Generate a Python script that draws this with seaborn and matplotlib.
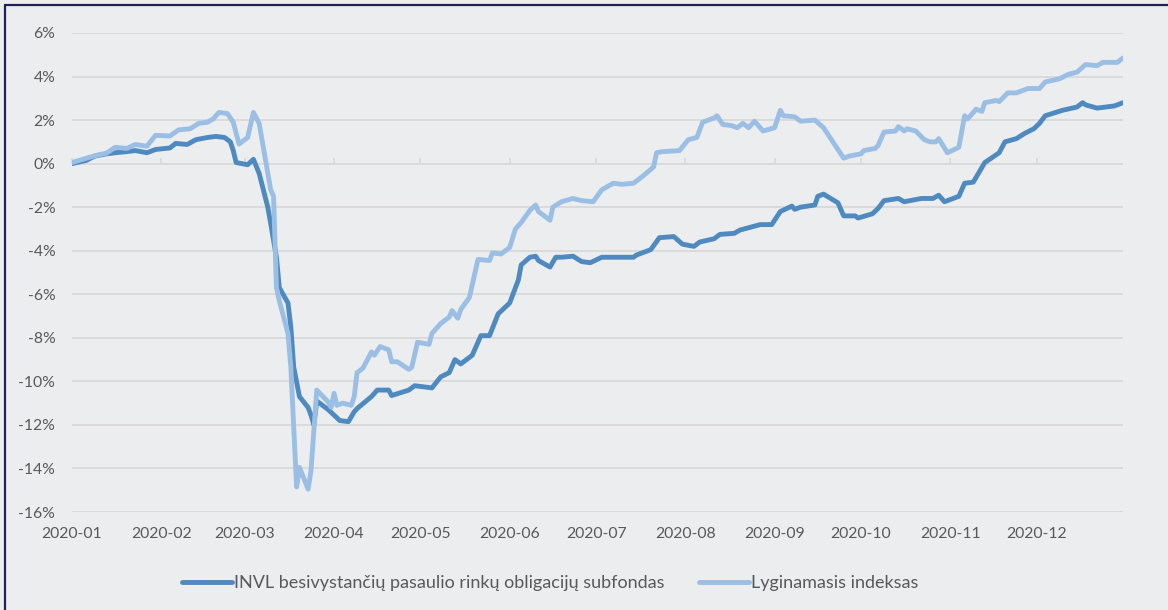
import pandas as pd
import seaborn as sns
import matplotlib.pyplot as plt
import matplotlib.dates as mdates
from matplotlib.lines import Line2D

# Duomenys nuskaityti nuo paveikslo (%)
fondo_datos = ["01-01", "01-06", "01-09", "01-13", "01-16", "01-20", "01-23", "01-27", "01-30",
               "02-04", "02-06", "02-10", "02-13", "02-17", "02-20", "02-23", "02-25", "02-26",
               "02-27", "03-02", "03-04", "03-06", "03-09", "03-10", "03-12", "03-13", "03-16",
               "03-17", "03-18", "03-20", "03-23", "03-24", "03-25", "03-26", "03-30", "04-03",
               "04-06", "04-08", "04-09", "04-14", "04-16", "04-20", "04-21", "04-27", "04-29",
               "05-05", "05-08", "05-11", "05-13", "05-15", "05-19", "05-22", "05-25", "05-28",
               "06-01", "06-04", "06-05", "06-08", "06-10", "06-11", "06-15", "06-17", "06-19",
               "06-23", "06-26", "06-29", "07-03", "07-09", "07-14", "07-15", "07-20", "07-23",
               "07-28", "07-31", "08-04", "08-06", "08-11", "08-13", "08-18", "08-20", "08-27",
               "08-31", "09-03", "09-07", "09-08", "09-10", "09-15", "09-16", "09-18", "09-23",
               "09-25", "09-29", "09-30", "10-05", "10-07", "10-09", "10-14", "10-16", "10-22",
               "10-26", "10-28", "10-30", "11-04", "11-06", "11-09", "11-11", "11-13", "11-18",
               "11-20", "11-24", "11-27", "11-30", "12-02", "12-04", "12-10", "12-15", "12-17",
               "12-18", "12-22", "12-28", "12-30", "12-31"]
fondo_reiksmes = [0.0, 0.15, 0.35, 0.45, 0.5, 0.55, 0.6, 0.5, 0.65,
                  0.72, 0.93, 0.88, 1.1, 1.2, 1.25, 1.2, 1.0, 0.6,
                  0.05, -0.05, 0.2, -0.45, -2.0, -2.75, -4.3, -5.7, -6.4,
                  -7.5, -9.35, -10.7, -11.2, -11.55, -12.0, -10.9, -11.3, -11.8,
                  -11.85, -11.4, -11.25, -10.7, -10.4, -10.4, -10.65, -10.4, -10.2,
                  -10.3, -9.8, -9.6, -9.0, -9.2, -8.8, -7.9, -7.9, -6.9,
                  -6.4, -5.35, -4.65, -4.3, -4.25, -4.45, -4.75, -4.3, -4.3,
                  -4.25, -4.5, -4.55, -4.3, -4.3, -4.3, -4.2, -3.95, -3.4,
                  -3.35, -3.7, -3.8, -3.6, -3.45, -3.25, -3.2, -3.05, -2.8,
                  -2.8, -2.2, -1.95, -2.1, -2.0, -1.9, -1.5, -1.4, -1.8,
                  -2.4, -2.4, -2.5, -2.3, -2.05, -1.7, -1.6, -1.75, -1.6,
                  -1.6, -1.45, -1.75, -1.5, -0.9, -0.85, -0.4, 0.05, 0.5,
                  1.0, 1.15, 1.4, 1.6, 1.85, 2.2, 2.45, 2.6, 2.8,
                  2.7, 2.55, 2.65, 2.75, 2.8]

indekso_datos = ["01-01", "01-06", "01-10", "01-13", "01-16", "01-20", "01-23", "01-27", "01-30",
                 "02-04", "02-07", "02-11", "02-14", "02-17", "02-19", "02-21", "02-24", "02-26",
                 "02-28", "03-02", "03-04", "03-05", "03-06", "03-10", "03-11", "03-12", "03-13",
                 "03-16", "03-17", "03-19", "03-20", "03-23", "03-24", "03-26", "03-30", "03-31",
                 "04-01", "04-02", "04-04", "04-07", "04-08", "04-09", "04-11", "04-14", "04-15",
                 "04-17", "04-20", "04-21", "04-23", "04-27", "04-28", "04-30", "05-04", "05-05",
                 "05-08", "05-11", "05-12", "05-14", "05-15", "05-18", "05-21", "05-25", "05-26",
                 "05-29", "06-01", "06-03", "06-05", "06-08", "06-10", "06-11", "06-15", "06-16",
                 "06-19", "06-23", "06-26", "06-30", "07-03", "07-07", "07-10", "07-14", "07-17",
                 "07-21", "07-22", "07-24", "07-30", "08-02", "08-05", "08-07", "08-11", "08-12",
                 "08-14", "08-17", "08-19", "08-21", "08-23", "08-25", "08-28", "09-01", "09-03",
                 "09-04", "09-08", "09-10", "09-15", "09-18", "09-22", "09-25", "09-27", "10-01",
                 "10-02", "10-06", "10-07", "10-09", "10-13", "10-14", "10-16", "10-17", "10-20",
                 "10-23", "10-25", "10-27", "10-28", "10-31", "11-04", "11-06", "11-07", "11-10",
                 "11-12", "11-13", "11-17", "11-18", "11-21", "11-24", "11-28", "12-02", "12-04",
                 "12-09", "12-12", "12-15", "12-18", "12-22", "12-24", "12-29", "12-31"]
indekso_reiksmes = [0.05, 0.25, 0.4, 0.48, 0.75, 0.7, 0.88, 0.8, 1.3,
                    1.27, 1.55, 1.6, 1.85, 1.9, 2.05, 2.35, 2.3, 1.9,
                    0.9, 1.2, 2.35, 2.1, 1.85, -1.2, -1.5, -5.7, -6.3,
                    -7.8, -9.35, -14.85, -13.95, -14.95, -14.1, -10.4, -10.95, -11.2,
                    -10.55, -11.1, -11.0, -11.1, -10.7, -9.6, -9.4, -8.65, -8.8,
                    -8.4, -8.55, -9.1, -9.1, -9.45, -9.35, -8.2, -8.3, -7.8,
                    -7.35, -7.05, -6.75, -7.1, -6.7, -6.15, -4.4, -4.45, -4.1,
                    -4.15, -3.85, -3.0, -2.7, -2.15, -1.9, -2.2, -2.6, -2.0,
                    -1.75, -1.6, -1.7, -1.75, -1.2, -0.9, -0.95, -0.9, -0.6,
                    -0.15, 0.5, 0.55, 0.6, 1.1, 1.2, 1.9, 2.1, 2.2,
                    1.8, 1.75, 1.65, 1.85, 1.65, 1.95, 1.5, 1.65, 2.45,
                    2.2, 2.15, 1.95, 2.0, 1.65, 0.85, 0.25, 0.35, 0.45,
                    0.6, 0.7, 0.85, 1.45, 1.5, 1.7, 1.5, 1.6, 1.5,
                    1.1, 1.0, 1.0, 1.15, 0.5, 0.75, 2.2, 2.05, 2.5,
                    2.4, 2.8, 2.9, 2.85, 3.25, 3.25, 3.45, 3.45, 3.75,
                    3.9, 4.1, 4.2, 4.55, 4.5, 4.65, 4.65, 4.85]

serijos = ["INVL besivystančių pasaulio rinkų obligacijų subfondas", "Lyginamasis indeksas"]
spalvos = ["#4E8AC0", "#9BBEE4"]

fondas = pd.DataFrame({"data": pd.to_datetime(["2020-" + d for d in fondo_datos]),
                       "grąža": fondo_reiksmes, "serija": serijos[0]})
indeksas = pd.DataFrame({"data": pd.to_datetime(["2020-" + d for d in indekso_datos]),
                         "grąža": indekso_reiksmes, "serija": serijos[1]})
duomenys = pd.concat([fondas, indeksas], ignore_index=True)

fonas = "#ECEDEF"
teksto_spalva = "#595959"
tinklelis = "#D9D9D9"

sns.set_style("white")
plt.rcParams["font.family"] = ["Lato", "DejaVu Sans"]

fig = plt.figure(figsize=(11.68, 6.10), dpi=100, facecolor=fonas)
ax = fig.add_axes([72 / 1168, 1 - 512 / 610, (1123 - 72) / 1168, (512 - 33) / 610])
ax.set_facecolor(fonas)

sns.lineplot(data=duomenys, x="data", y="grąža", hue="serija", hue_order=serijos,
             palette=dict(zip(serijos, spalvos)), estimator=None, linewidth=3.5,
             ax=ax, legend=True)

ax.set_xlim(pd.Timestamp("2020-01-01"), pd.Timestamp("2020-12-31"))
ax.set_ylim(-16, 6)
ax.set_yticks(range(-16, 7, 2))
ax.set_yticklabels([f"{v}%" for v in range(-16, 7, 2)])
ax.xaxis.set_major_locator(mdates.MonthLocator())
ax.xaxis.set_major_formatter(mdates.DateFormatter("%Y-%m"))
ax.yaxis.grid(True, color=tinklelis, linewidth=1.3)
ax.set_axisbelow(True)
for s in ax.spines.values():
    s.set_visible(False)
ax.tick_params(axis="x", length=0, pad=11, labelsize=11.3, labelcolor=teksto_spalva)
ax.tick_params(axis="y", length=0, pad=12, labelsize=11.3, labelcolor=teksto_spalva)
ax.set_xlabel("")
ax.set_ylabel("")

# nulinė ašis su mėnesių žymėmis
nulis = ax.secondary_xaxis(16 / 22)
nulis.xaxis.set_major_locator(mdates.MonthLocator())
nulis.tick_params(axis="x", direction="out", length=4, width=1.3, color=tinklelis, labelbottom=False)
nulis.spines["bottom"].set_visible(False)
nulis.spines["top"].set_visible(False)
nulis.set_xticklabels([])

rankenos, etiketes = ax.get_legend_handles_labels()
ax.get_legend().remove()
fig.legend(rankenos, etiketes, loc="center", bbox_to_anchor=(550 / 1168, 1 - 583 / 610), ncol=2,
           frameon=False, fontsize=13, handlelength=2.8, handletextpad=0.1, columnspacing=1.9,
           labelcolor=teksto_spalva)

# rėmelis (viršus ir kairė)
fig.add_artist(Line2D([4.5 / 1168, 1], [1 - 5 / 610, 1 - 5 / 610], transform=fig.transFigure,
                      color="#1F2156", linewidth=1.6))
fig.add_artist(Line2D([4.5 / 1168, 4.5 / 1168], [0, 1 - 5 / 610], transform=fig.transFigure,
                      color="#1F2156", linewidth=1.6))

fig.savefig("out.png", dpi=100, facecolor=fonas)
